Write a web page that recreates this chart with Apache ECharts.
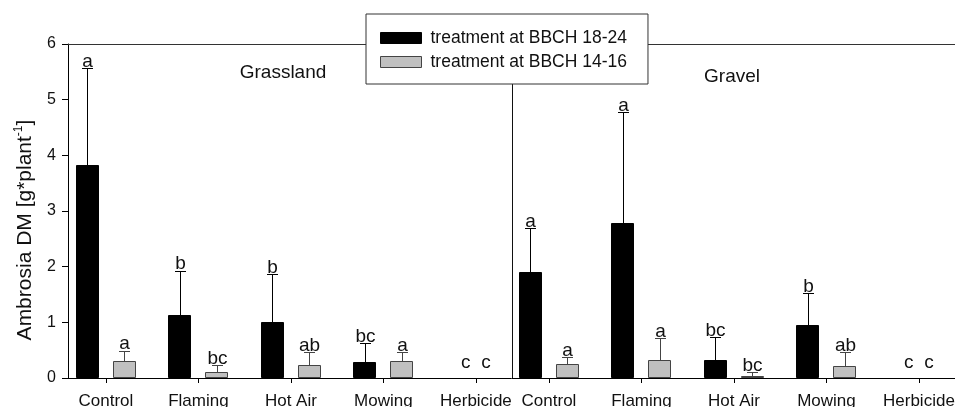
<!DOCTYPE html>
<html>
<head>
<meta charset="utf-8">
<script src="https://cdn.jsdelivr.net/npm/echarts@6/dist/echarts.min.js"></script>
<style>
  html, body { margin: 0; padding: 0; background: #fff; }
  #main { width: 955px; height: 407px; }
</style>
</head>
<body>
<div id="main"></div>
<script>
// treatments, Grassland then Gravel
var categories = ['Control', 'Flaming', 'Hot Air', 'Mowing', 'Herbicide',
                  'Control', 'Flaming', 'Hot Air', 'Mowing', 'Herbicide'];
var positions = [1, 2, 3, 4, 5, 5.79, 6.79, 7.79, 8.79, 9.79];
var siteSplit = 5.39;

// treatment at BBCH 18-24 (mean, upper error)
var lateMean = [3.83, 1.13, 1.01, 0.28, 0, 1.91, 2.79, 0.32, 0.95, 0];
var lateErr = [1.73, 0.80, 0.86, 0.34, 0, 0.78, 1.99, 0.41, 0.57, 0];
var lateLetters = ['a', 'b', 'b', 'bc', 'c', 'a', 'a', 'bc', 'b', 'c'];

// treatment at BBCH 14-16
var earlyMean = [0.31, 0.10, 0.23, 0.31, 0, 0.25, 0.32, 0.03, 0.21, 0];
var earlyErr = [0.18, 0.13, 0.23, 0.16, 0, 0.12, 0.40, 0.07, 0.26, 0];
var earlyLetters = ['a', 'bc', 'ab', 'a', 'c', 'a', 'a', 'bc', 'ab', 'c'];

var yTicks = [0, 1, 2, 3, 4, 5, 6];

var FONT = '"Liberation Sans", Arial, sans-serif';
var chart = echarts.init(document.getElementById('main'));

function barSeries(name, means, errs, letters, side, fill, stroke) {
  return {
    name: name,
    type: 'custom',
    z: 2,
    itemStyle: { color: fill, borderColor: stroke, borderWidth: 1 },
    encode: { x: 0, y: 1 },
    data: positions.map(function (p, i) { return [p, means[i], errs[i], i]; }),
    renderItem: function (params, api) {
      var i = api.value(3);
      var m = api.value(1), e = api.value(2);
      var cx = api.value(0) + side * 0.2;
      var base = api.coord([cx, 0]);
      var w = api.size([0.25, 0])[0];
      var kids = [];
      if (m > 0) {
        var top = api.coord([cx, m]);
        var et = api.coord([cx, m + e]);
        var x = Math.round(base[0]);
        kids.push({
          type: 'rect',
          shape: { x: Math.round(base[0] - w / 2) + 0.5, y: Math.round(top[1]) + 0.5,
                   width: Math.round(w) - 1, height: Math.round(base[1]) - Math.round(top[1]) - 1 },
          style: { fill: fill, stroke: stroke, lineWidth: 1 }
        });
        kids.push({
          type: 'line',
          shape: { x1: x + 0.5, y1: Math.round(top[1]), x2: x + 0.5, y2: Math.round(et[1]) + 0.5 },
          style: { stroke: stroke, lineWidth: 1 }
        });
        kids.push({
          type: 'line',
          shape: { x1: x - 5, y1: Math.round(et[1]) + 0.5, x2: x + 6, y2: Math.round(et[1]) + 0.5 },
          style: { stroke: stroke, lineWidth: 1 }
        });
        kids.push({
          type: 'text',
          style: { text: letters[i], x: x + 0.5, y: et[1] + 3, align: 'center', verticalAlign: 'bottom',
                   font: '19px ' + FONT, fill: '#111' }
        });
      } else {
        var lp = api.coord([api.value(0) + side * 0.11, 0]);
        kids.push({
          type: 'text',
          style: { text: letters[i], x: lp[0], y: lp[1] - 6, align: 'center', verticalAlign: 'bottom',
                   font: '19px ' + FONT, fill: '#111' }
        });
      }
      return { type: 'group', children: kids };
    }
  };
}

var late = barSeries('treatment at BBCH 18-24', lateMean, lateErr, lateLetters, -1, '#000', '#000');
late.markLine = {
  silent: true,
  symbol: 'none',
  label: { show: false },
  lineStyle: { color: '#111', width: 1, type: 'solid' },
  data: [{ xAxis: siteSplit }]
};
var early = barSeries('treatment at BBCH 14-16', earlyMean, earlyErr, earlyLetters, 1, '#c0c0c0', '#444');

var option = {
  backgroundColor: '#fff',
  animation: false,
  textStyle: { fontFamily: FONT },
  grid: { left: 68, top: 44, right: 0, bottom: 29, outerBoundsMode: 'none', containLabel: false },
  legend: {
    orient: 'vertical',
    left: 366, top: 14,
    z: 100,
    padding: [15, 21, 13, 14],
    itemWidth: 41, itemHeight: 11, itemGap: 6,
    backgroundColor: '#fff', borderColor: '#333', borderWidth: 1,
    textStyle: { fontSize: 17.5, color: '#111', padding: [0, 0, 0, 4] },
    data: [
      { name: 'treatment at BBCH 18-24', icon: 'rect', itemStyle: { color: '#000', borderColor: '#000', borderWidth: 1 } },
      { name: 'treatment at BBCH 14-16', icon: 'rect', itemStyle: { color: '#c0c0c0', borderColor: '#444', borderWidth: 1 } }
    ]
  },
  xAxis: [{
    type: 'value',
    min: 0.59, max: 10.18,
    splitLine: { show: false },
    axisLine: { lineStyle: { color: '#000' } },
    axisTick: { show: true, length: 5, lineStyle: { color: '#000' }, customValues: positions },
    axisLabel: {
      customValues: positions,
      margin: 15, fontSize: 17, color: '#111',
      formatter: function (v) {
        var k = positions.indexOf(v);
        return k >= 0 ? categories[k] : '';
      }
    }
  }, {
    // top frame line
    type: 'value', position: 'top',
    min: 0.59, max: 10.18,
    splitLine: { show: false },
    axisLine: { show: true, lineStyle: { color: '#333' } },
    axisTick: { show: false },
    axisLabel: { show: false }
  }],
  yAxis: {
    type: 'value',
    min: 0, max: 6, interval: 1,
    splitLine: { show: false },
    axisLine: { show: true, lineStyle: { color: '#000' } },
    axisTick: { show: true, length: 6, lineStyle: { color: '#000' } },
    axisLabel: { margin: 12, fontSize: 16, color: '#111',
      formatter: function (v) { return yTicks.indexOf(v) >= 0 ? String(v) : ''; } }
  },
  graphic: [
    { type: 'text', x: 283, y: 73, style: { text: 'Grassland', align: 'center', verticalAlign: 'middle', font: '19px ' + FONT, fill: '#111' } },
    { type: 'text', x: 732, y: 77, style: { text: 'Gravel', align: 'center', verticalAlign: 'middle', font: '19px ' + FONT, fill: '#111' } },
    {
      type: 'text', x: 25, y: 230, rotation: Math.PI / 2,
      style: {
        text: 'Ambrosia DM [g*plant{s|-1}]',
        align: 'center', verticalAlign: 'middle',
        font: '21px ' + FONT, fill: '#111', lineHeight: 24,
        rich: { s: { fontSize: 12, fontFamily: FONT, verticalAlign: 'top', lineHeight: 24, fill: '#111' } }
      }
    }
  ],
  series: [late, early]
};

chart.setOption(option);
</script>
</body>
</html>
